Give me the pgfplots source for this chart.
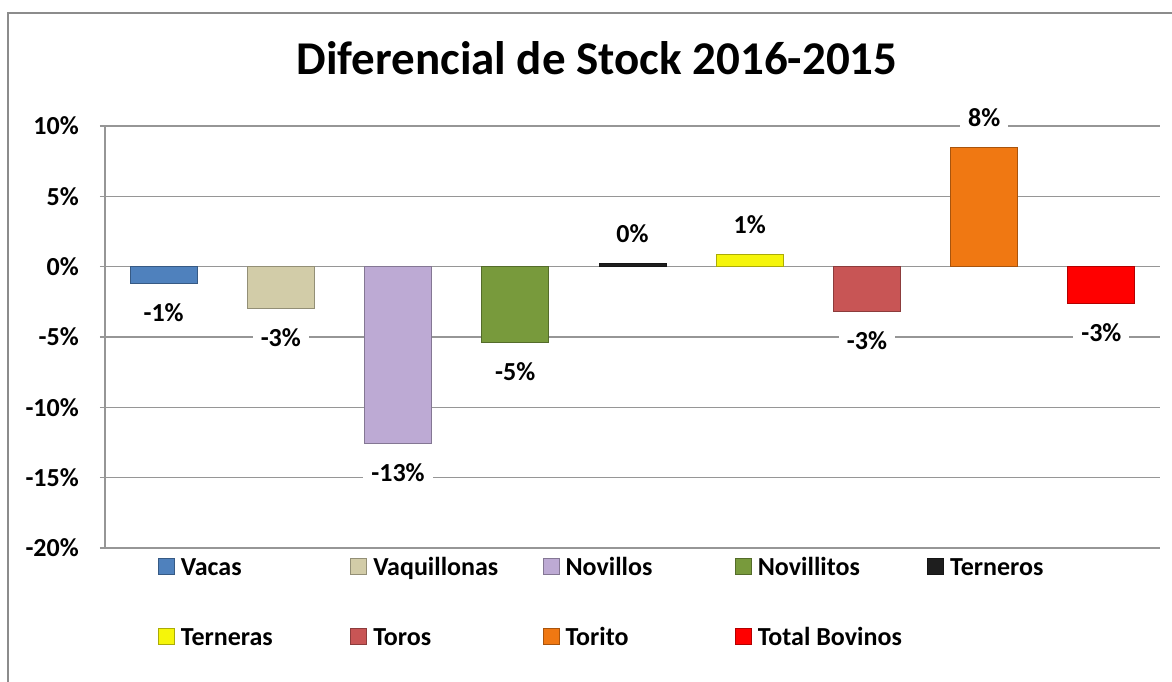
\documentclass[border=0pt]{standalone}
\usepackage{pgfplots}
\pgfplotsset{compat=1.18}
\usepackage{fontspec}
\setmainfont{Carlito}

\definecolor{gridgray}{RGB}{150,150,150}
\definecolor{framegray}{RGB}{140,140,140}
\definecolor{cVacas}{RGB}{79,129,189}
\definecolor{cVaquillonas}{RGB}{210,204,168}
\definecolor{cNovillos}{RGB}{189,170,212}
\definecolor{cNovillitos}{RGB}{120,154,60}
\definecolor{cTerneros}{RGB}{30,30,30}
\definecolor{cTerneras}{RGB}{245,245,10}
\definecolor{cToros}{RGB}{200,85,85}
\definecolor{cTorito}{RGB}{240,120,18}
\definecolor{cTotal}{RGB}{255,0,0}

\newcommand\lb[1]{\makebox[160pt][l]{#1}}
\newcommand\lfont{\bfseries\fontsize{26}{30}\selectfont}

\pgfplotsset{
  bar/.style={fill=#1, draw=#1!70!black, line width=0.8pt, bar shift=0pt,
    legend image code/.code={\draw[##1, line width=0.8pt] (0pt,-5.5pt) rectangle (16pt,10.5pt);}},
  neg/.style={every node near coord/.append style={anchor=north}},
  pos/.style={every node near coord/.append style={anchor=south}},
}

\begin{document}
\begin{tikzpicture}
\useasboundingbox (-105pt,-133pt) rectangle (1067pt,548pt);
\draw[framegray, line width=1.2pt] (-97pt,-200pt) -- (-97pt,535pt) -- (1200pt,535pt);
\begin{axis}[
  at={(0pt,0pt)}, anchor=south west,
  scale only axis, width=1055pt, height=422pt,
  ybar, bar width=67pt,
  xmin=-0.5, xmax=8.5, ymin=-20, ymax=10,
  clip=false,
  axis x line=none, axis y line=left,
  axis line style={-, draw=gridgray, line width=1.5pt},
  ytick={-20,-15,-10,-5,0,5,10},
  yticklabels={-20\%,-15\%,-10\%,-5\%,0\%,5\%,10\%},
  ymajorgrids, grid style={draw=gridgray, line width=1.5pt},
  tick align=outside, major tick length=5pt,
  tick style={draw=gridgray, line width=1.5pt},
  yticklabel style={font=\lfont, inner xsep=0pt, xshift=-21pt},
  title={Diferencial de Stock 2016-2015},
  title style={at={(0.4664,1)}, anchor=base, yshift=46pt,
    font=\bfseries\fontsize{47}{56}\selectfont},
  point meta=explicit symbolic,
  nodes near coords,
  every node near coord/.append style={font=\lfont, fill=white,
    inner xsep=8pt, inner ysep=4pt, outer ysep=17pt,
    text height=17pt, text depth=0pt},
  legend columns=5, legend cell align=left,
  legend style={at={(0.0502,-0.0237)}, anchor=north west, draw=none,
    inner sep=0pt, font=\lfont, row sep=48pt,
    nodes={inner xsep=3pt, inner ysep=0pt, text height=17pt, text depth=5pt},
    /tikz/every odd column/.append style={column sep=3pt},
    /tikz/every even column/.append style={column sep=6.5pt}},
]
\addplot[bar=cVacas, neg] coordinates {(0,-1.2) [-1\%]};
\addlegendentry{\lb{Vacas}}
\addplot[bar=cVaquillonas, neg] coordinates {(1,-3.0) [-3\%]};
\addlegendentry{\lb{Vaquillonas}}
\addplot[bar=cNovillos, neg] coordinates {(2,-12.55) [-13\%]};
\addlegendentry{\lb{Novillos}}
\addplot[bar=cNovillitos, neg] coordinates {(3,-5.4) [-5\%]};
\addlegendentry{\lb{Novillitos}}
\addplot[bar=cTerneros, pos] coordinates {(4,0.25) [0\%]};
\addlegendentry{\lb{Terneros}}
\addplot[bar=cTerneras, pos] coordinates {(5,0.86) [1\%]};
\addlegendentry{\lb{Terneras}}
\addplot[bar=cToros, neg] coordinates {(6,-3.2) [-3\%]};
\addlegendentry{\lb{Toros}}
\addplot[bar=cTorito, pos] coordinates {(7,8.5) [8\%]};
\addlegendentry{\lb{Torito}}
\addplot[bar=cTotal, neg] coordinates {(8,-2.6) [-3\%]};
\addlegendentry{\lb{Total Bovinos}}
\end{axis}
\end{tikzpicture}
\end{document}
